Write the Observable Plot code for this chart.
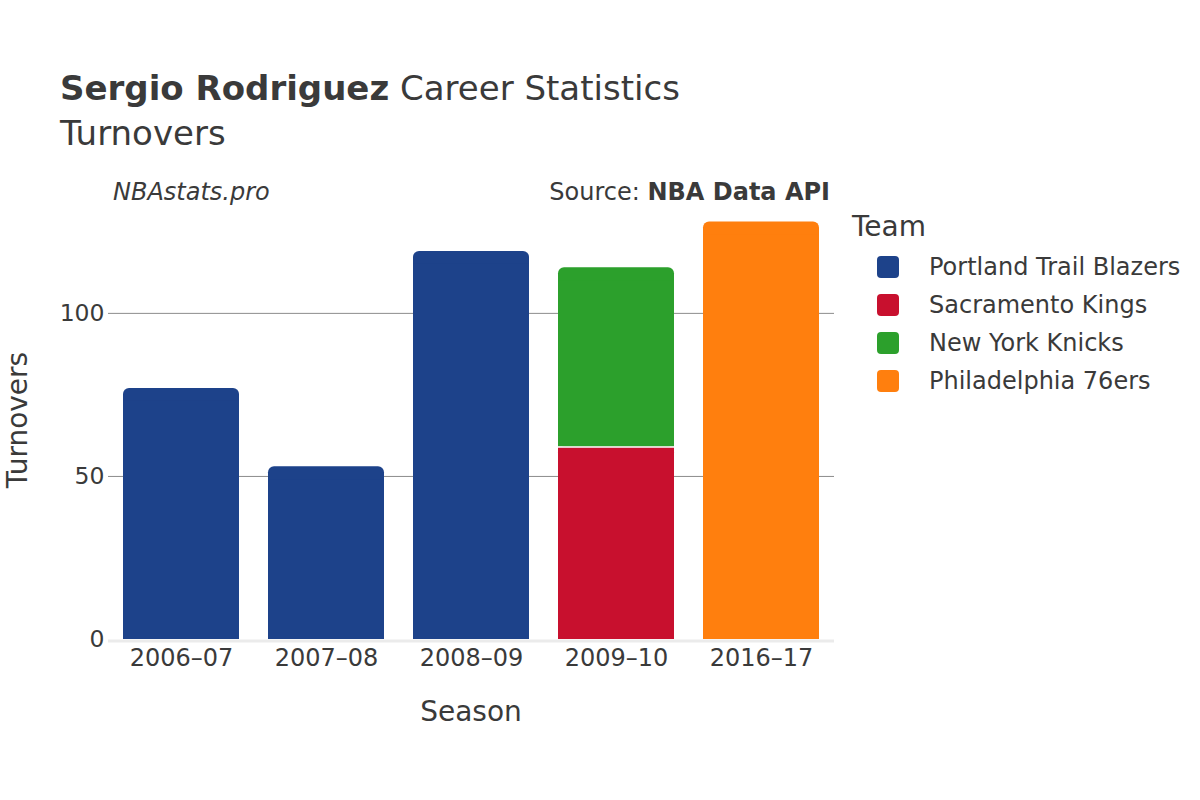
<!DOCTYPE html>
<html>
<head>
<meta charset="utf-8">
<script src="https://cdn.jsdelivr.net/npm/d3@7"></script>
<script src="https://cdn.jsdelivr.net/npm/@observablehq/plot@0.6"></script>
<style>
  html, body { margin: 0; padding: 0; background: #fff; }
  #wrap { position: relative; width: 1200px; height: 800px; font-family: "DejaVu Sans", sans-serif; color: #3a3a3a; overflow: hidden; }
  .abs { position: absolute; white-space: nowrap; }
  #title { left: 60px; top: 68px; font-size: 34px; line-height: 40px; color: #3a3a3a; }
  #subtitle { left: 60px; top: 113px; font-size: 34px; line-height: 40px; color: #3a3a3a; }
  #brand { left: 113px; top: 178px; font-size: 24px; font-style: italic; color: #3a3a3a; }
  #source { right: 370px; top: 178px; font-size: 24px; color: #3a3a3a; }
  #xlabel { left: 471px; top: 695px; transform: translateX(-50%); font-size: 28px; color: #3a3a3a; }
  #ylabel { left: 17px; top: 420px; transform: translate(-50%, -50%) rotate(-90deg); font-size: 28px; color: #3a3a3a; }
  #legend { left: 852px; top: 210px; }
  #legend .lt { font-size: 28px; margin-bottom: 5px; }
  #legend .row { display: flex; align-items: center; height: 38px; font-size: 24px; }
  #legend .sw { width: 22px; height: 22px; border-radius: 4px; margin-left: 25px; margin-right: 30px; }
</style>
</head>
<body>
<div id="wrap">
  <div class="abs" id="title"><b>Sergio Rodriguez</b> Career Statistics</div>
  <div class="abs" id="subtitle">Turnovers</div>
  <div class="abs" id="brand">NBAstats.pro</div>
  <div class="abs" id="source">Source: <b>NBA Data API</b></div>
  <div class="abs" id="xlabel">Season</div>
  <div class="abs" id="ylabel">Turnovers</div>
  <div class="abs" id="legend"></div>
  <div id="chart"></div>
</div>
<script>
const seasons = ["2006–07", "2007–08", "2008–09", "2009–10", "2016–17"];
const teams = ["Portland Trail Blazers", "Sacramento Kings", "New York Knicks", "Philadelphia 76ers"];
const teamColors = ["#1d428a", "#c8102e", "#2ca02c", "#ff7f0e"];
const rowSeason = ["2006–07", "2007–08", "2008–09", "2009–10", "2009–10", "2016–17"];
const rowTeam = ["Portland Trail Blazers", "Portland Trail Blazers", "Portland Trail Blazers", "Sacramento Kings", "New York Knicks", "Philadelphia 76ers"];
const rowTurnovers = [77, 53, 119, 59, 55, 128];
const yTicks = [0, 50, 100];

// stack manually per season in row order
const acc = {};
const rows = rowSeason.map((s, i) => {
  const y1 = acc[s] || 0;
  const y2 = y1 + rowTurnovers[i];
  acc[s] = y2;
  return {season: s, team: rowTeam[i], y1, y2};
});
rows.forEach(r => { r.top = acc[r.season] === r.y2; });

const color = {domain: teams, range: teamColors};

const chart = Plot.plot({
  width: 1200,
  height: 800,
  marginLeft: 108,
  marginRight: 366,
  marginTop: 202,
  marginBottom: 161,
  style: {fontFamily: "DejaVu Sans, sans-serif", fontSize: "24px", color: "#3a3a3a", background: "transparent"},
  x: {domain: seasons, paddingInner: 0.2, paddingOuter: 0.1, label: null},
  y: {domain: [0, 134], label: null},
  color,
  marks: [
    Plot.ruleY([50, 100], {stroke: "#8c8c8c", strokeWidth: 1}),
    Plot.ruleY([0], {stroke: "#ebebeb", strokeWidth: 3, dy: 1.5}),
    Plot.rectY(rows, {x: "season", y1: "y1", y2: "y2", fill: d => d.team, rx: 6}),
    Plot.rectY(rows, {x: "season", y1: "y1", y2: d => d.top ? d.y2 - 4 : d.y2, fill: d => d.team}),
    Plot.ruleY(rows.filter(d => !d.top), {x1: "season", x2: "season", y: "y2", stroke: "white", strokeWidth: 1.5}),
    Plot.axisY(yTicks, {tickSize: 0, tickPadding: 4, fontSize: 23.5, label: null, fill: "#3a3a3a"}),
    Plot.axisX({tickSize: 0, tickPadding: 9, fontSize: 24, label: null, fill: "#3a3a3a"})
  ]
});
document.getElementById("chart").appendChild(chart);

// legend
const leg = document.getElementById("legend");
const lt = document.createElement("div");
lt.className = "lt";
lt.textContent = "Team";
leg.appendChild(lt);
teams.forEach((t, i) => {
  const row = document.createElement("div");
  row.className = "row";
  const sw = document.createElement("div");
  sw.className = "sw";
  sw.style.background = teamColors[i];
  const lab = document.createElement("span");
  lab.textContent = t;
  row.appendChild(sw);
  row.appendChild(lab);
  leg.appendChild(row);
});
</script>
</body>
</html>
